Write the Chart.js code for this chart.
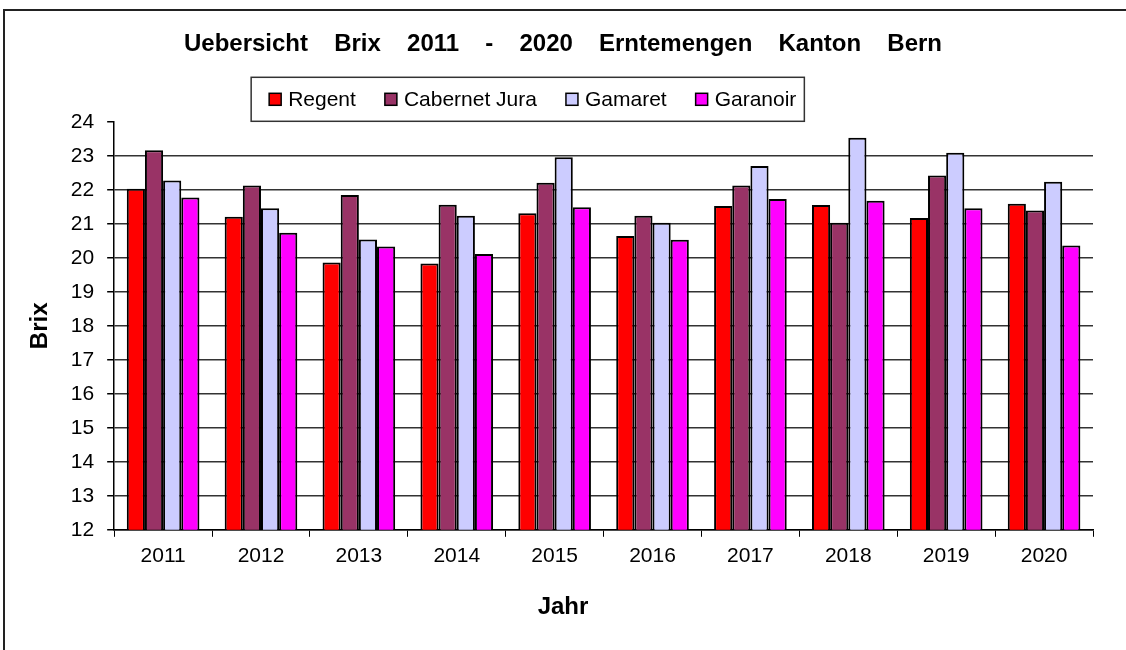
<!DOCTYPE html>
<html>
<head>
<meta charset="utf-8">
<title>Uebersicht Brix 2011 - 2020</title>
<script src="https://cdn.jsdelivr.net/npm/chart.js@4/dist/chart.umd.min.js"></script>
<style>
  html, body { margin: 0; padding: 0; background: #fff; overflow: hidden; }
  #wrap { position: relative; width: 1126px; height: 650px; }
  #frame {
    position: absolute; left: 3px; top: 9px; right: 0; bottom: 0;
    border-top: 2px solid #222; border-left: 2px solid #222;
    pointer-events: none;
  }
  canvas { position: absolute; left: 0; top: 0; }
</style>
</head>
<body>
<div id="wrap">
  <canvas id="chart" width="1126" height="650"></canvas>
  <div id="frame"></div>
</div>
<script>
// Jahre
const years = ['2011', '2012', '2013', '2014', '2015', '2016', '2017', '2018', '2019', '2020'];

// Brix Werte pro Sorte
const regent       = [22.03, 21.21, 19.86, 19.83, 21.31, 20.64, 21.52, 21.55, 21.17, 21.59];
const cabernetJura = [23.16, 22.13, 21.85, 21.56, 22.21, 21.24, 22.13, 21.03, 22.42, 21.39];
const gamaret      = [22.27, 21.46, 20.54, 21.24, 22.96, 21.03, 22.70, 23.53, 23.09, 22.24];
const garanoir     = [21.77, 20.74, 20.33, 20.11, 21.49, 20.53, 21.73, 21.68, 21.46, 20.36];

const FONT = '"Liberation Sans", Arial, sans-serif';
Chart.defaults.font.family = FONT;
Chart.defaults.color = '#000';

const makeSet = (label, data, color) => ({
    label: label,
    data: data,
    backgroundColor: color,
    borderColor: '#000',
    borderWidth: 2,
    borderSkipped: false,
    categoryPercentage: 0.742,
    barPercentage: 1.0
});

// Legende mit Rahmen + Achsentitel "Jahr" (auf Bildmitte)
const legendBox = {
    id: 'legendBox',
    afterLayout(chart) {
        // Titel ueber die ganze Breite zentrieren
        const t = chart.titleBlock;
        if (t) {
            t.left = 0;
            t.right = chart.width;
            t.width = chart.width;
        }
    },
    beforeDraw(chart) {
        // Titel hat breite Wortabstaende
        chart.ctx.wordSpacing = '19.5px';
    },
    afterDraw(chart) {
        const ctx = chart.ctx;
        const area = chart.chartArea;
        ctx.save();
        ctx.wordSpacing = '0px';
        ctx.font = '21px ' + FONT;

        const sq = 12, gapText = 7, gapItem = 29, padL = 18, padR = 8;
        const sets = chart.data.datasets;
        let total = 0;
        sets.forEach((ds, i) => {
            total += sq + gapText + ctx.measureText(ds.label).width;
            if (i < sets.length - 1) total += gapItem;
        });

        const boxH = 44;
        const left = area.left + 137;
        const top = area.top - boxH - 0.5;
        const boxW = total + padL + padR;

        ctx.fillStyle = '#fff';
        ctx.fillRect(left, top, boxW, boxH);
        ctx.strokeStyle = '#333';
        ctx.lineWidth = 1.5;
        ctx.strokeRect(left, top, boxW, boxH);

        const cy = top + boxH / 2;
        let x = left + padL;
        ctx.textBaseline = 'middle';
        ctx.textAlign = 'left';
        sets.forEach(ds => {
            ctx.fillStyle = ds.backgroundColor;
            ctx.fillRect(x, cy - sq / 2, sq, sq);
            ctx.lineWidth = 1.5;
            ctx.strokeStyle = '#000';
            ctx.strokeRect(x, cy - sq / 2, sq, sq);
            x += sq + gapText;
            ctx.fillStyle = '#000';
            ctx.fillText(ds.label, x, cy + 1);
            x += ctx.measureText(ds.label).width + gapItem;
        });

        ctx.font = 'bold 24px ' + FONT;
        ctx.textAlign = 'center';
        ctx.fillText('Jahr', chart.width / 2, area.bottom + 78);
        ctx.restore();
    }
};

new Chart(document.getElementById('chart'), {
    type: 'bar',
    data: {
        labels: years,
        datasets: [
            makeSet('Regent', regent, '#FF0000'),
            makeSet('Cabernet Jura', cabernetJura, '#993366'),
            makeSet('Gamaret', gamaret, '#CCCCFF'),
            makeSet('Garanoir', garanoir, '#FF00FF')
        ]
    },
    options: {
        responsive: false,
        animation: false,
        devicePixelRatio: 1,
        layout: {
            padding: { top: 10, left: 0, right: 33, bottom: 74 }
        },
        plugins: {
            legend: { display: false },
            tooltip: { enabled: false },
            title: {
                display: true,
                text: 'Uebersicht Brix 2011 - 2020 Erntemengen Kanton Bern',
                font: { size: 24, weight: 'bold' },
                color: '#000',
                padding: { top: 20, bottom: 63 }
            }
        },
        scales: {
            x: {
                grid: {
                    offset: true,
                    drawOnChartArea: false,
                    drawTicks: true,
                    tickLength: 7,
                    tickColor: '#000'
                },
                border: { display: true, color: '#000', width: 1.5 },
                ticks: { font: { size: 21 }, padding: 7, color: '#000' }
            },
            y: {
                min: 12,
                max: 24,
                ticks: { stepSize: 1, font: { size: 21 }, padding: 13, color: '#000' },
                grid: {
                    color: (c) => (c.tick && c.tick.value === 24) ? 'rgba(0,0,0,0)' : '#333',
                    lineWidth: 1.5,
                    tickLength: 7,
                    tickColor: '#000'
                },
                border: { display: true, color: '#000', width: 1.5 },
                title: {
                    display: true,
                    text: 'Brix',
                    font: { size: 24, weight: 'bold' },
                    color: '#000',
                    padding: { top: 26, bottom: 3 }
                }
            }
        }
    },
    plugins: [legendBox]
});
</script>
</body>
</html>
